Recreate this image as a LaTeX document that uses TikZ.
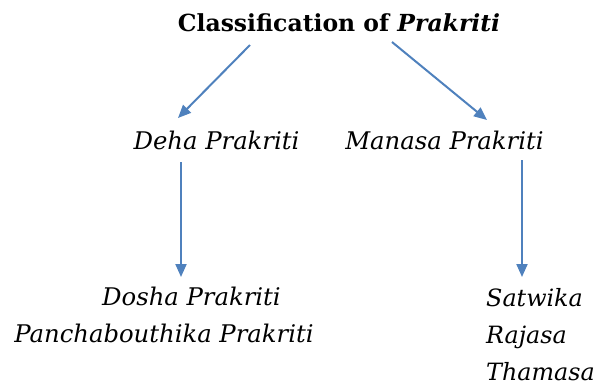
\documentclass[tikz,border=0pt]{standalone}
\usepackage{fontspec}
\setmainfont{DejaVu Serif}
\usetikzlibrary{arrows.meta}
\definecolor{arrowblue}{RGB}{79,129,189}
\tikzset{
  lbl/.style={inner sep=0pt, anchor=base, font=\fontsize{24.3}{28}\selectfont\itshape},
  rlbl/.style={inner sep=0pt, anchor=base west, font=\fontsize{23.8}{28}\selectfont\itshape},
  ttl/.style={inner sep=0pt, anchor=base, font=\fontsize{23.5}{28}\selectfont\bfseries},
  conn/.style={draw=arrowblue, line width=2pt, -{Triangle[length=13pt,width=11pt]}}
}
\begin{document}
\begin{tikzpicture}[x=1pt,y=-1pt]
\useasboundingbox (0,0) rectangle (598,389);
\node[ttl] (title) at (339,31) {Classification of \textit{Prakriti}};
\node[lbl] (deha) at (216.5,149) {Deha Prakriti};
\node[lbl] (manasa) at (444.5,149) {Manasa Prakriti};
\node[lbl] (dosha) at (191.5,305) {Dosha Prakriti};
\node[lbl] (pancha) at (164,342) {Panchabouthika Prakriti};
\node[rlbl] (satwika) at (486,306) {Satwika};
\node[rlbl] (rajasa) at (486,343) {Rajasa};
\node[rlbl] (thamasa) at (486,380) {Thamasa};
\coordinate (a1s) at (250,45);
\coordinate (a1e) at (178,118);
\coordinate (a2s) at (392,42);
\coordinate (a2e) at (487,120);
\coordinate (a3s) at (181,162);
\coordinate (a3e) at (181,277);
\coordinate (a4s) at (522,160);
\coordinate (a4e) at (522,277);
\draw[conn] (a1s) -- (a1e);
\draw[conn] (a2s) -- (a2e);
\draw[conn] (a3s) -- (a3e);
\draw[conn] (a4s) -- (a4e);
\end{tikzpicture}
\end{document}
